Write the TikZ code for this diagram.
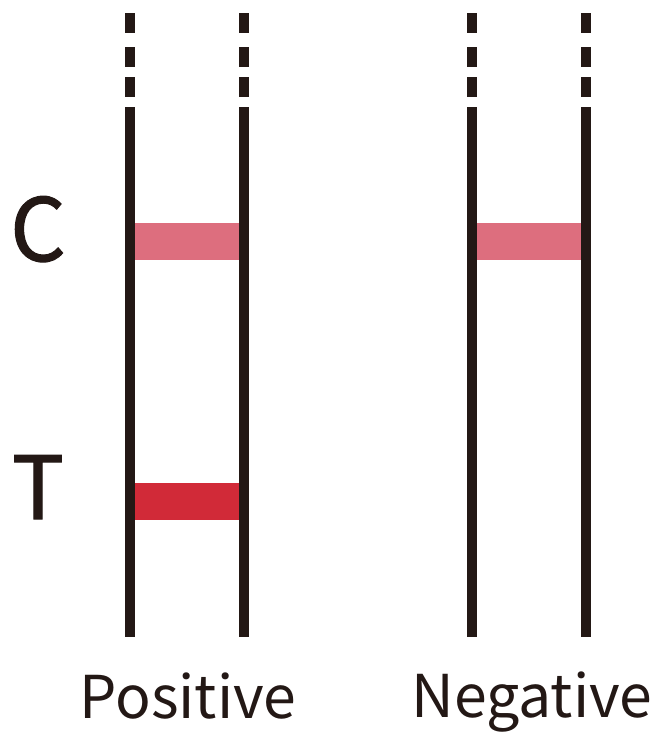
\documentclass[tikz,border=0pt]{standalone}
\usepackage{fontspec}
\newfontfamily\stripfont{Noto Sans CJK JP}
\newfontfamily\stripheavy[FakeBold=1.3]{Noto Sans CJK JP}
\definecolor{inkdark}{HTML}{231815}
\definecolor{bandC}{HTML}{DD6E7E}
\definecolor{bandT}{HTML}{D12A38}
\tikzset{
  rail/.style={draw=inkdark, line width=10pt},
  band/.style={line width=37pt},
  biglabel/.style={text=inkdark, font=\stripheavy\fontsize{87}{87}\selectfont, anchor=base, inner sep=0pt},
  caption/.style={text=inkdark, font=\stripfont\fontsize{59}{59}\selectfont, anchor=base, inner sep=0pt}
}
\begin{document}
\begin{tikzpicture}[x=1pt,y=-1pt]
	\useasboundingbox (0,0) rectangle (660,736);
	% strips: rails with dashed tops
	\foreach \xa/\xb in {130/244, 472/586} {
		\foreach \xr in {\xa,\xb} {
			\foreach \ya/\yb in {13/33, 47/67, 77/97}
				\draw[rail] (\xr,\ya) -- (\xr,\yb);
			\draw[rail] (\xr,107) -- (\xr,637);
		}
	}
	% control and test bands
	\draw[band, bandC] (135,241.5) -- (239,241.5);
	\draw[band, bandT] (135,501.5) -- (239,501.5);
	\draw[band, bandC] (477,241.5) -- (581,241.5);
	% labels
	\node[biglabel] (labC) at (38,261) {C};
	\node[biglabel] (labT) at (38,519) {T};
	\node[caption] (pos) at (188,718) {Positive};
	\node[caption] (neg) at (532,717) {Negative};
\end{tikzpicture}
\end{document}
